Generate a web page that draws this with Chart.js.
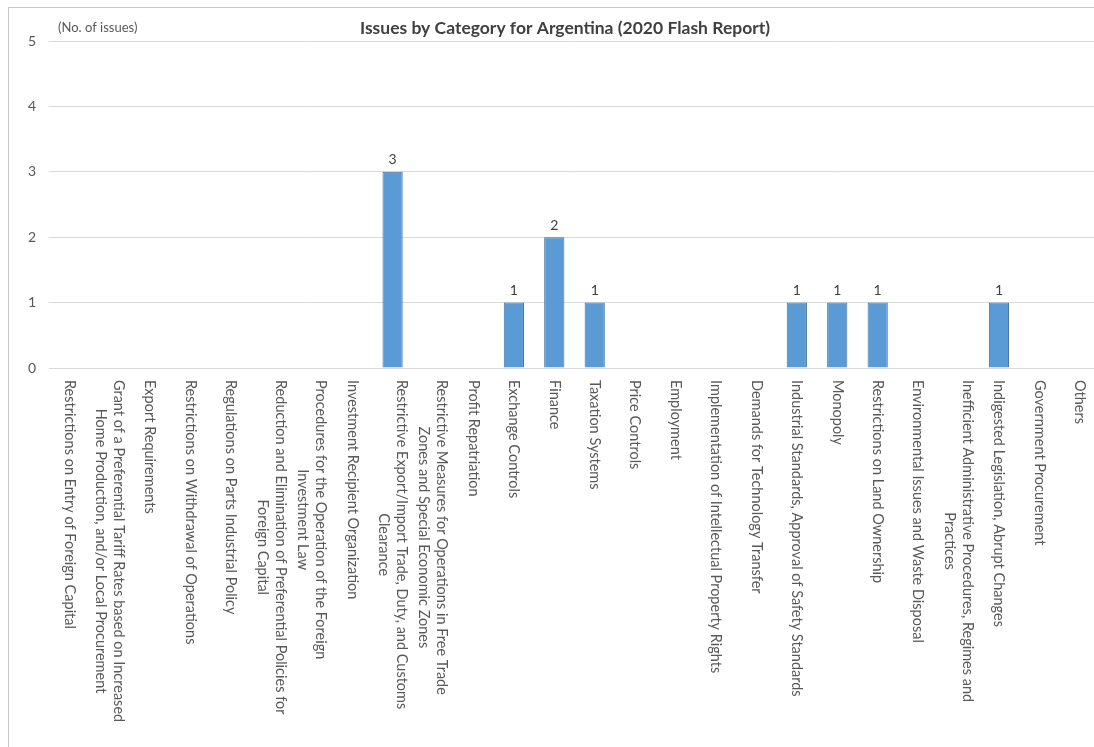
<!DOCTYPE html>
<html>
<head>
<meta charset="utf-8">
<script src="https://cdn.jsdelivr.net/npm/chart.js@4/dist/chart.umd.min.js"></script>
<style>
    html, body { margin: 0; padding: 0; background: #fff; overflow: hidden; }
    #wrap { position: relative; width: 1094px; height: 747px; overflow: hidden; }
    #frame { position: absolute; left: 8px; top: 7px; width: 1110px; height: 760px; border: 1px solid #c9c9c9; box-sizing: border-box; }
    canvas { position: absolute; left: 0; top: 0; }
</style>
</head>
<body>
<div id="wrap">
    <div id="frame"></div>
    <canvas id="issues-chart" width="1100" height="747"></canvas>
</div>
<script>
// Issue categories, long names split into the lines they wrap to
const categories = [
    ['Restrictions on Entry of Foreign Capital'],
    ['Grant of a Preferential Tariff Rates based on Increased', 'Home Production, and/or Local Procurement'],
    ['Export Requirements'],
    ['Restrictions on Withdrawal of Operations'],
    ['Regulations on Parts Industrial Policy'],
    ['Reduction and Elimination of Preferential Policies for', 'Foreign Capital'],
    ['Procedures for the Operation of the Foreign', 'Investment Law'],
    ['Investment Recipient Organization'],
    ['Restrictive Export/Import Trade, Duty, and Customs', 'Clearance'],
    ['Restrictive Measures for Operations in Free Trade', 'Zones and Special Economic Zones'],
    ['Profit Repatriation'],
    ['Exchange Controls'],
    ['Finance'],
    ['Taxation Systems'],
    ['Price Controls'],
    ['Employment'],
    ['Implementation of Intellectual Property Rights'],
    ['Demands for Technology Transfer'],
    ['Industrial Standards, Approval of Safety Standards'],
    ['Monopoly'],
    ['Restrictions on Land Ownership'],
    ['Environmental Issues and Waste Disposal'],
    ['Inefficient Administrative Procedures, Regimes and', 'Practices'],
    ['Indigested Legislation, Abrupt Changes'],
    ['Government Procurement'],
    ['Others']
];

const issueCounts = [0, 0, 0, 0, 0, 0, 0, 0, 3, 0, 0, 1, 2, 1, 0, 0, 0, 0, 1, 1, 1, 0, 0, 1, 0, 0];

const yTicks = [0, 1, 2, 3, 4, 5];

const chartTitle = 'Issues by Category for Argentina (2020 Flash Report)';
const unitLabel = '(No. of issues)';

(function() {
    const FONT = 'Lato, "Open Sans", sans-serif';
    const TEXT_GREY = '#595959';

    // value labels above each non-empty bar
    const valueLabels = {
        id: 'valueLabels',
        afterDatasetsDraw(chart) {
            const ctx = chart.ctx;
            const meta = chart.getDatasetMeta(0);
            ctx.save();
            ctx.font = '14px ' + FONT;
            ctx.fillStyle = '#404040';
            ctx.textAlign = 'center';
            ctx.textBaseline = 'bottom';
            meta.data.forEach((bar, i) => {
                const v = issueCounts[i];
                if (!v) return;
                ctx.fillText(String(v), bar.x, bar.y - 5);
            });
            ctx.restore();
        }
    };

    // category names written top-to-bottom under each tick
    const verticalLabels = {
        id: 'verticalLabels',
        afterDraw(chart) {
            const ctx = chart.ctx;
            const xScale = chart.scales.x;
            const top = chart.chartArea.bottom + 12;
            const lineHeight = 18;
            ctx.save();
            ctx.font = '14.5px ' + FONT;
            ctx.fillStyle = TEXT_GREY;
            ctx.textAlign = 'center';
            ctx.textBaseline = 'middle';
            categories.forEach((lines, i) => {
                const x = xScale.getPixelForTick(i);
                const widest = Math.max(...lines.map(l => ctx.measureText(l).width));
                ctx.save();
                ctx.translate(x, top);
                ctx.rotate(Math.PI / 2);
                lines.forEach((line, k) => {
                    const off = (k - (lines.length - 1) / 2) * lineHeight;
                    ctx.fillText(line, widest / 2, off);
                });
                ctx.restore();
            });

            // chart heading and unit note
            const area = chart.chartArea;
            ctx.textBaseline = 'middle';
            ctx.font = 'bold 17.5px ' + FONT;
            ctx.fillStyle = '#404040';
            ctx.textAlign = 'center';
            ctx.fillText(chartTitle, 565, area.top - 13);
            ctx.font = '13px ' + FONT;
            ctx.fillStyle = TEXT_GREY;
            ctx.textAlign = 'left';
            ctx.fillText(unitLabel, 58, area.top - 13);
            ctx.restore();
        }
    };

    const ctx = document.getElementById('issues-chart').getContext('2d');

    new Chart(ctx, {
        type: 'bar',
        data: {
            labels: categories.map(lines => lines.join(' ')),
            datasets: [{
                data: issueCounts,
                backgroundColor: '#5B9BD5',
                borderColor: '#41719C',
                borderWidth: 1,
                categoryPercentage: 1,
                barPercentage: 0.5
            }]
        },
        options: {
            responsive: false,
            animation: false,
            layout: {
                padding: { top: 41, left: 0, right: 0, bottom: 0 }
            },
            scales: {
                x: {
                    grid: { display: false },
                    border: { display: false },
                    ticks: { display: false },
                    afterFit: scale => { scale.height = 747 - 41 - 327; }
                },
                y: {
                    min: 0,
                    max: 5,
                    afterBuildTicks: scale => {
                        scale.ticks = yTicks.map(v => ({ value: v }));
                    },
                    ticks: {
                        color: TEXT_GREY,
                        padding: 13,
                        font: { family: FONT, size: 14 }
                    },
                    grid: {
                        color: '#d9d9d9',
                        drawTicks: false
                    },
                    border: { display: false },
                    afterFit: scale => { scale.width = 49; }
                }
            },
            plugins: {
                legend: { display: false },
                tooltip: { enabled: false }
            }
        },
        plugins: [valueLabels, verticalLabels]
    });
})();
</script>
</body>
</html>
